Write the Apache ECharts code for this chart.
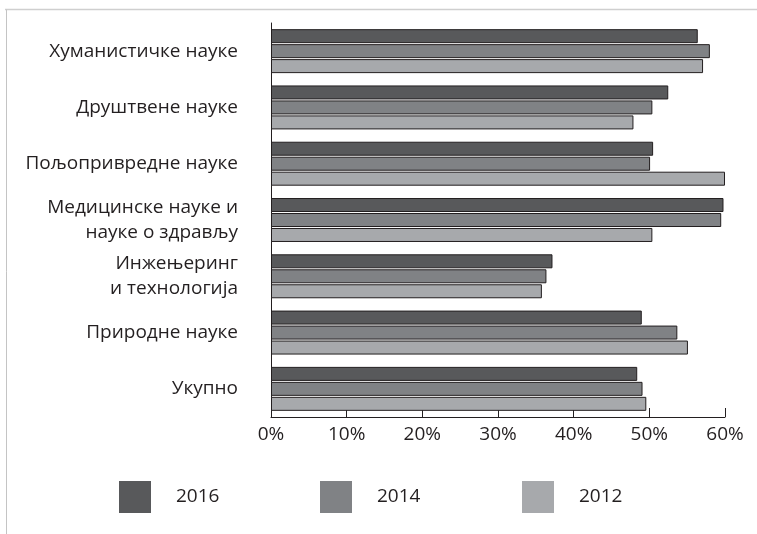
<!DOCTYPE html>
<html><head><meta charset="utf-8">
<script src="https://cdn.jsdelivr.net/npm/echarts@6/dist/echarts.min.js"></script>
<style>html,body{margin:0;padding:0;background:#fff;}#c{width:757px;height:534px;}</style>
</head><body><div id="c"></div>
<script>
const categories = ['Хуманистичке науке','Друштвене науке','Пољопривредне науке','Медицинске науке и\nнауке о здрављу','Инжењеринг\nи технологија','Природне науке','Укупно'];
const years = ['2016','2014','2012'];
const v2016 = [56.4, 52.5, 50.5, 59.8, 37.2, 49.0, 48.4];
const v2014 = [58.0, 50.4, 50.1, 59.5, 36.4, 53.7, 49.1];
const v2012 = [57.1, 47.9, 60.0, 50.4, 35.8, 55.1, 49.6];
const xTicks = [0, 10, 20, 30, 40, 50, 60];

const colors = ['#58595b', '#808285', '#a7a9ac'];
const FONT = 'Open Sans';
const chart = echarts.init(document.getElementById('c'), null, {renderer: 'canvas'});
const seriesData = [v2016, v2014, v2012];
const legendLefts = [119, 320, 522];
chart.setOption({
  animation: false,
  textStyle: {fontFamily: FONT},
  grid: {left: 271, right: 32, top: 23, bottom: 117, containLabel: false},
  legend: years.map((y, i) => ({
    data: [y], left: legendLefts[i], top: 481, padding: 0, itemWidth: 32, itemHeight: 32,
    icon: 'rect', itemStyle: {borderWidth: 0},
    textStyle: {fontSize: 19, color: '#231f20', fontFamily: FONT, padding: [0, 0, 0, 20]},
    selectedMode: false
  })),
  xAxis: {
    type: 'value', min: 0, max: 60, interval: 10,
    axisLine: {show: true, lineStyle: {color: '#231f20', width: 1}},
    axisTick: {show: true, inside: true, length: 9, lineStyle: {color: '#231f20'}},
    splitLine: {show: false},
    axisLabel: {formatter: v => xTicks.includes(v) ? v + '%' : '', fontSize: 19, color: '#231f20', margin: 8}
  },
  yAxis: {
    type: 'category', data: categories, inverse: true,
    axisLine: {show: true, lineStyle: {color: '#231f20', width: 1}},
    axisTick: {show: false},
    axisLabel: {fontSize: 19, color: '#231f20', margin: 33, lineHeight: 25, align: 'right'}
  },
  series: years.map((y, i) => ({
    name: y, type: 'bar', data: seriesData[i],
    barWidth: 14, barGap: '7%',
    itemStyle: {color: colors[i], borderColor: '#231f20', borderWidth: 1},
    emphasis: {disabled: true}
  })),
  graphic: [
    {type: 'line', shape: {x1: 5, y1: 9.5, x2: 757, y2: 9.5}, style: {stroke: '#cfcfcf', lineWidth: 1.5}, silent: true},
    {type: 'line', shape: {x1: 6.5, y1: 9.5, x2: 6.5, y2: 534}, style: {stroke: '#c4c4c4', lineWidth: 1}, silent: true}
  ]
});
</script></body></html>
